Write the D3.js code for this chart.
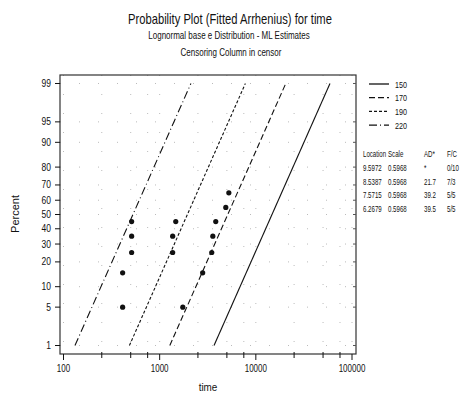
<!DOCTYPE html>
<html><head><meta charset="utf-8">
<script src="https://cdn.jsdelivr.net/npm/d3@7"></script>
<style>
body{margin:0;background:#fff;}
svg text{font-family:"Liberation Sans",Arial,sans-serif;fill:#111;}
</style></head>
<body>
<svg id="c" width="472" height="413"></svg>
<script>
// ---- data ----
const stresses = ["150", "170", "190", "220"];
const locations = [9.5972, 8.5387, 7.5715, 6.2679];
const scales = [0.5968, 0.5968, 0.5968, 0.5968];
const adStats = ["*", "21.7", "39.2", "39.5"];
const failCens = ["0/10", "7/3", "5/5", "5/5"];
const pctTicks = [1, 5, 10, 20, 30, 40, 50, 60, 70, 80, 90, 95, 99];
const xMajorTicks = [100, 1000, 10000, 100000];
const xMinorTicks = [250, 500, 750, 2500, 5000, 7500, 25000, 50000, 75000];
const times170 = [1740, 2800, 3480, 3570, 3830, 4870, 5240];
const pct170 = [5, 15, 25, 35, 45, 55, 65];
const times190 = [1365, 1365, 1470];
const pct190 = [25, 35, 45];
const times220 = [412, 412, 511, 511, 511];
const pct220 = [5, 15, 25, 35, 45];
const lineEnds = [1, 99];

// inverse normal CDF (Acklam)
function qnorm(p){
  const a=[-3.969683028665376e+01,2.209460984245205e+02,-2.759285104469687e+02,1.383577518672690e+02,-3.066479806614716e+01,2.506628277459239e+00];
  const b=[-5.447609879822406e+01,1.615858368580409e+02,-1.556989798598866e+02,6.680131188771972e+01,-1.328068155288572e+01];
  const c=[-7.784894002430293e-03,-3.223964580411365e-01,-2.400758277161838e+00,-2.549732539343734e+00,4.374664141464968e+00,2.938163982698783e+00];
  const d=[7.784695709041462e-03,3.224671290700398e-01,2.445134137142996e+00,3.754408661907416e+00];
  const pl=0.02425, ph=1-pl; let q,r;
  if(p<pl){q=Math.sqrt(-2*Math.log(p));return (((((c[0]*q+c[1])*q+c[2])*q+c[3])*q+c[4])*q+c[5])/((((d[0]*q+d[1])*q+d[2])*q+d[3])*q+1);}
  if(p<=ph){q=p-0.5;r=q*q;return (((((a[0]*r+a[1])*r+a[2])*r+a[3])*r+a[4])*r+a[5])*q/(((((b[0]*r+b[1])*r+b[2])*r+b[3])*r+b[4])*r+1);}
  q=Math.sqrt(-2*Math.log(1-p));return -(((((c[0]*q+c[1])*q+c[2])*q+c[3])*q+c[4])*q+c[5])/((((d[0]*q+d[1])*q+d[2])*q+d[3])*q+1);
}

const svg = d3.select("#c");
const L=60, R=356, T=75, B=354;
const x = d3.scaleLog().domain([100,100000]).range([63.5,352]);
const z = d3.scaleLinear().domain([-2.477,2.477]).range([B,T]);
const y = p => z(qnorm(p/100));

// condensed text helper
function ntext(px, py, str, size, anchor, sx){
  return svg.append("text")
    .attr("transform",`translate(${px},${py}) scale(${sx||0.8},1)`)
    .attr("text-anchor",anchor||"start").attr("font-size",size).text(str);
}

// grid (faint dotted)
const g = svg.append("g");
g.selectAll("line.gy").data(pctTicks).enter().append("line")
  .attr("x1",L).attr("x2",R).attr("y1",d=>y(d)).attr("y2",d=>y(d))
  .attr("stroke","#bbb").attr("stroke-width",1).attr("stroke-dasharray","1,18");
g.selectAll("line.gx").data(xMinorTicks.concat(xMajorTicks)).enter().append("line")
  .attr("x1",d=>x(d)).attr("x2",d=>x(d)).attr("y1",T).attr("y2",B)
  .attr("stroke","#bbb").attr("stroke-width",1).attr("stroke-dasharray","1,18");

// frame
svg.append("rect").attr("x",L).attr("y",T).attr("width",R-L).attr("height",B-T)
  .attr("fill","none").attr("stroke","#333").attr("stroke-width",1.2);

// y axis
const ya = svg.append("g");
pctTicks.forEach(p=>{
  ya.append("line").attr("x1",L-5).attr("x2",L).attr("y1",y(p)).attr("y2",y(p)).attr("stroke","#111");
  ya.append("line").attr("x1",R-3).attr("x2",R).attr("y1",y(p)).attr("y2",y(p)).attr("stroke","#555");
  ntext(L-9, y(p)+3.5, p, 10, "end", 0.85);
});
// x axis
xMajorTicks.forEach(t=>{
  svg.append("line").attr("x1",x(t)).attr("x2",x(t)).attr("y1",B).attr("y2",B+6).attr("stroke","#111");
  ntext(x(t), B+18, t, 10, "middle", 0.8);
});
xMinorTicks.forEach(t=>{
  svg.append("line").attr("x1",x(t)).attr("x2",x(t)).attr("y1",B-2).attr("y2",B+4).attr("stroke","#111");
});

// fitted lines
const dashes = [null, "6,3", "3,2", "8,3,1,3"];
stresses.forEach((s,i)=>{
  const pts = lineEnds.map(p=>[x(Math.exp(locations[i]+scales[i]*qnorm(p/100))), y(p)]);
  svg.append("line").attr("x1",pts[0][0]).attr("y1",pts[0][1]).attr("x2",pts[1][0]).attr("y2",pts[1][1])
    .attr("stroke","#111").attr("stroke-width",1.1).attr("stroke-dasharray",dashes[i]);
});

// points
[[times170,pct170],[times190,pct190],[times220,pct220]].forEach(([tt,pp])=>{
  svg.selectAll(null).data(tt).enter().append("circle")
    .attr("cx",d=>x(d)).attr("cy",(d,j)=>y(pp[j])).attr("r",2.6).attr("fill","#111");
});

// titles
ntext(230, 24, "Probability Plot (Fitted Arrhenius) for time", 14, "middle", 0.8);
ntext(229, 39, "Lognormal base e Distribution - ML Estimates", 10, "middle", 0.8);
ntext(231, 56, "Censoring Column in censor", 10, "middle", 0.8);
svg.append("text").attr("transform","translate(19,214) rotate(-90)").attr("text-anchor","middle").attr("font-size",11).text("Percent");
ntext(208, 391, "time", 11, "middle", 0.9);

// legend
stresses.forEach((s,i)=>{
  const ly = 84 + i*13.7;
  svg.append("line").attr("x1",369).attr("x2",389).attr("y1",ly).attr("y2",ly)
    .attr("stroke","#111").attr("stroke-width",1.3).attr("stroke-dasharray",dashes[i]);
  ntext(395, ly+3.5, s, 9, "start", 0.8);
});
// table
const cols = [363, 388, 424, 447];
const hdr = ["Location","Scale","AD*","F/C"];
hdr.forEach((h,k)=>ntext(cols[k], 157, h, 8.5, "start", 0.72));
stresses.forEach((s,i)=>{
  const ry = 171 + i*13.7;
  const row = [locations[i].toFixed(4), scales[i].toFixed(4), adStats[i], failCens[i]];
  row.forEach((v,k)=>ntext(cols[k], ry, v, 8.5, "start", 0.72));
});
</script>
</body></html>
